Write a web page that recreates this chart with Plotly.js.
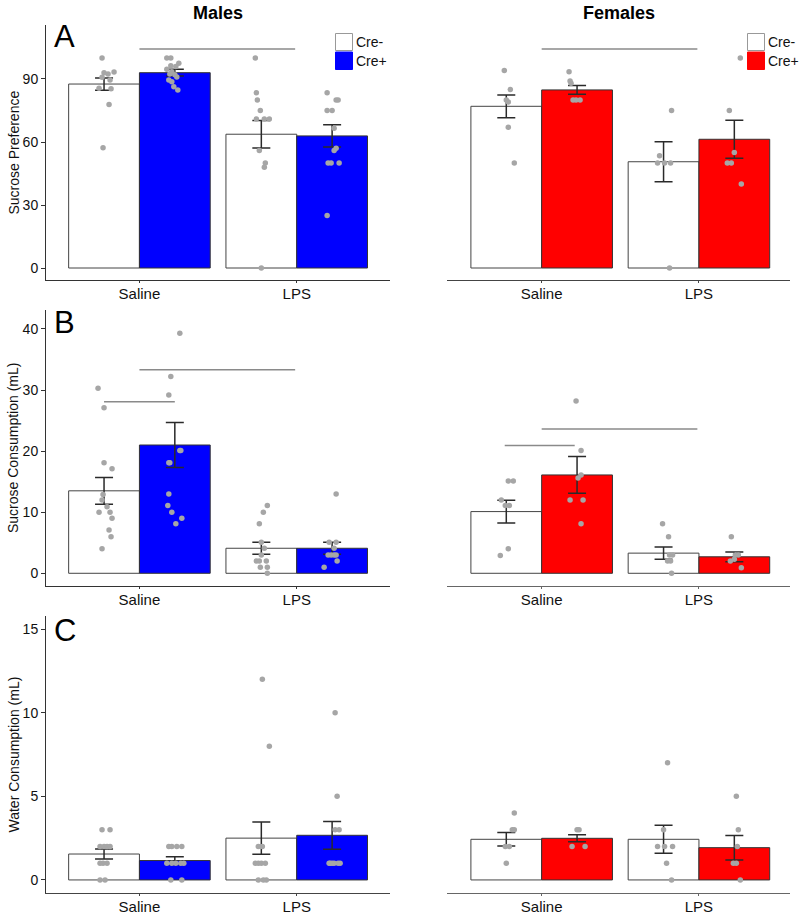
<!DOCTYPE html>
<html><head><meta charset="utf-8">
<script src="https://cdn.plot.ly/plotly-3.0.1.min.js"></script>
<style>html,body{margin:0;padding:0;background:#fff}#chart{width:800px;height:916px}</style>
</head><body><div id="chart"></div>
<script>
// ---------- DATA ----------
const categories = ['Saline', 'LPS'];
const genotypes = ['Cre-', 'Cre+'];
const sexes = ['Males', 'Females'];
const panelLetters = ['A', 'B', 'C'];
const yTitles = ['Sucrose Preference', 'Sucrose Consumption (mL)', 'Water Consumption (mL)'];
const yTicksA = [0, 30, 60, 90];
const yTicksB = [0, 10, 20, 30, 40];
const yTicksC = [0, 5, 10, 15];

// Panel A: sucrose preference (%)
const prefMaleNegMean = [87.6, 63.7];
const prefMaleNegSE = [2.9, 6.5];
const prefMalePosMean = [93.0, 62.9];
const prefMalePosSE = [1.6, 5.3];
const prefFemNegMean = [77.0, 50.6];
const prefFemNegSE = [5.4, 9.5];
const prefFemPosMean = [84.8, 61.3];
const prefFemPosSE = [2.1, 9.0];
const prefMaleNegPts = [[100, 93, 93.3, 92.4, 90.8, 89.5, 85.6, 85.4, 77.8, 57.3],
                        [100, 83.5, 80, 75, 71, 71, 71, 56, 50, 48, 0]];
const prefMalePosPts = [[100, 100, 97.5, 96.3, 96, 94.6, 93.5, 92.4, 92, 91, 89.5, 88.7, 86.3, 84.8],
                        [83.5, 80, 80, 75, 75, 66.5, 57, 56, 50, 50, 50, 25]];
const prefFemNegPts = [[94, 85, 80, 79, 67, 50],
                       [75, 53.5, 50, 50, 50, 0]];
const prefFemPosPts = [[93.5, 89, 88, 80, 80, 80],
                       [100, 75, 55, 50, 50, 40]];

// Panel B: sucrose consumption (mL)
const sucMaleNegMean = [13.5, 4.1];
const sucMaleNegSE = [2.2, 1.0];
const sucMalePosMean = [21.0, 4.1];
const sucMalePosSE = [3.7, 1.0];
const sucFemNegMean = [10.1, 3.3];
const sucFemNegSE = [1.85, 1.0];
const sucFemPosMean = [16.1, 2.7];
const sucFemPosSE = [3.0, 0.8];
const sucMaleNegPts = [[30.3, 27.1, 18.1, 17.1, 12.9, 12, 10.9, 10, 10, 9, 7.1, 6, 4],
                       [11.1, 10, 8.1, 5.1, 4.1, 3, 2, 2, 2, 1, 1, 0]];
const sucMalePosPts = [[39.3, 32.2, 29.2, 20.1, 20.1, 18.1, 18.1, 13, 11.1, 10, 9, 8.1],
                       [13, 5.1, 5.1, 4.1, 3, 3, 3, 3, 2, 1]];
const sucFemNegPts = [[15.1, 15.1, 12, 11.1, 11.1, 4, 2.9],
                      [8.1, 6, 3, 3, 2, 2, 0]];
const sucFemPosPts = [[28.2, 20.1, 16.1, 15.6, 12, 12, 8.1],
                      [6, 3, 3, 2.3, 2, 0.9]];

// Panel C: water consumption (mL)
const watMaleNegMean = [1.55, 2.5];
const watMaleNegSE = [0.3, 0.97];
const watMalePosMean = [1.16, 2.67];
const watMalePosSE = [0.23, 0.83];
const watFemNegMean = [2.43, 2.43];
const watFemNegSE = [0.4, 0.84];
const watFemPosMean = [2.49, 1.93];
const watFemPosSE = [0.21, 0.73];
const watMaleNegPts = [[3, 3, 2, 2, 2, 2, 1, 1, 1, 0, 0],
                       [12, 8, 2, 2, 1, 1, 1, 1, 0, 0, 0]];
const watMalePosPts = [[2, 2, 2, 2, 1, 1, 1, 1, 1, 0, 0],
                       [10, 5, 3, 3, 1, 1, 1, 1, 1, 1]];
const watFemNegPts = [[4, 3, 3, 2, 2, 1],
                      [7, 3, 2, 2, 2, 1, 0]];
const watFemPosPts = [[3, 3, 2, 2],
                      [5, 3, 2, 1, 1, 0]];

// Significance bars: [from, to, level] (from/to in category units)
const sigA_M = [[0, 0.99, 104.3]];
const sigA_F = [[0, 0.99, 104.3]];
const sigB_M = [[-0.225, 0.225, 28.1], [0, 0.99, 33.3]];
const sigB_F = [[-0.235, 0.21, 20.9], [0, 0.99, 23.6]];

// ---------- horizontal jitter of the dots (pixels) ----------
const jPrefMaleNeg = [[-2, 0, 10, 4, -2, 6, -5, 7, 5, -1], [-6, -5, -4, -1, -5, 3, 8, -2, 4, 3, 0]];
const jPrefMalePos = [[-8, -4, 4, -4, 1, -8, -3, -5, 0, 2, -6, -3, -1, 3], [-5, 4, 6, -5, 0, 2, 4, 2, -4, -1, 7, -5]];
const jPrefFemNeg = [[-2, 4, 0, 2, 2, 8], [8, -4, -6, 1, 7, 6]];
const jPrefFemPos = [[-8, -7, -6, -4, -1, 3], [6, -5, 0, -7, -3, 7]];
const jSucMaleNeg = [[-6, 0, 0, 8, -1, -2, 3, -5, 6, 8, 5, 7, -2], [6, 2, -2, 0, 3, 0, -5, -2, 5, -1, 6, 6]];
const jSucMalePos = [[5, -4, -6, 6, 5, -6, -5, -6, -7, -3, 7, 1], [4, -3, 4, 2, -4, -1, 2, 4, 5, -8]];
const jSucFemNeg = [[2, 7, -5, -1, 3, 2, -6], [-1, 5, 6, 9, 4, 7, 8]];
const jSucFemPos = [[-1, 4, 4, 1, -7, 6, 4], [-3, 1, 4, 0, -4, 7]];
const jWatMaleNeg = [[-2, 6, -4, 0, 3, 6, -4, -1, 3, -4, 1], [1, 8, -3, 1, -6, -3, 0, 4, -3, 5, 2]];
const jWatMalePos = [[-6, -3, 2, 7, -8, -3, 1, 6, 9, -4, 7], [3, 5, 3, 7, -3, 0, 6, 8, 2, -2]];
const jWatFemNeg = [[8, 6, 8, -1, 3, 0], [4, 0, -6, 1, 9, 3, 8]];
const jWatFemPos = [[0, 2, -5, 8], [2, 4, 3, -1, 2, 6]];

// ---------- STYLE / GEOMETRY ----------
const W = 800, H = 916;
const FONT = 'Liberation Sans, Arial, sans-serif';
const BLUE = '#0000ff', RED = '#ff0000';
const DOT = '#a6a6a6';
const PXU = 157.3;          // pixels per category unit
const OFF = 0.225;          // dodge offset of each genotype
const xDomM = [46 / W, 390 / W];
const xDomF = [447 / W, 790 / W];
const yDomA = [1 - 280 / H, 1 - 25 / H];
const yDomB = [1 - 586 / H, 1 - 310 / H];
const yDomC = [1 - 893 / H, 1 - 616 / H];
const xRangeM = [-0.594, 1.593];
const xRangeF = [-0.602, 1.579];
const yRangeA = [-5.71, 115.71];
const yRangeB = [-2.08, 43.1];
const yRangeC = [-0.78, 15.78];

const data = [];
const shapes = [];
const annotations = [];

function addPanel(ax, negMean, negSE, posMean, posSE, negPts, negJit, posPts, posJit, posColor, sig) {
  const xa = 'x' + ax, ya = 'y' + ax;
  const eb = (arr) => ({type: 'data', array: arr, visible: true, color: '#2a2a2a', thickness: 1.5, width: 9});
  data.push({type: 'bar', x: [0, 1], y: negMean, name: genotypes[0], xaxis: xa, yaxis: ya,
    marker: {color: '#ffffff', line: {color: '#444', width: 1}}, error_y: eb(negSE),
    showlegend: false, hoverinfo: 'skip'});
  data.push({type: 'bar', x: [0, 1], y: posMean, name: genotypes[1], xaxis: xa, yaxis: ya,
    marker: {color: posColor, line: {color: '#333', width: 1}}, error_y: eb(posSE),
    showlegend: false, hoverinfo: 'skip'});
  const px = [], py = [];
  [[negPts, negJit, -OFF], [posPts, posJit, OFF]].forEach(([pts, jit, off]) => {
    pts.forEach((vals, ci) => {
      vals.forEach((v, i) => { px.push(ci + off + jit[ci][i] / PXU); py.push(v); });
    });
  });
  data.push({type: 'scatter', mode: 'markers', x: px, y: py, xaxis: xa, yaxis: ya,
    marker: {color: DOT, size: 5.5, line: {width: 0}}, showlegend: false, hoverinfo: 'skip'});
  (sig || []).forEach(([a, b, lvl]) => {
    shapes.push({type: 'line', xref: xa, yref: ya, x0: a, x1: b, y0: lvl, y1: lvl,
      line: {color: '#8a8a8a', width: 1.5}});
  });
}

addPanel('', prefMaleNegMean, prefMaleNegSE, prefMalePosMean, prefMalePosSE,
  prefMaleNegPts, jPrefMaleNeg, prefMalePosPts, jPrefMalePos, BLUE, sigA_M);
addPanel('2', prefFemNegMean, prefFemNegSE, prefFemPosMean, prefFemPosSE,
  prefFemNegPts, jPrefFemNeg, prefFemPosPts, jPrefFemPos, RED, sigA_F);
addPanel('3', sucMaleNegMean, sucMaleNegSE, sucMalePosMean, sucMalePosSE,
  sucMaleNegPts, jSucMaleNeg, sucMalePosPts, jSucMalePos, BLUE, sigB_M);
addPanel('4', sucFemNegMean, sucFemNegSE, sucFemPosMean, sucFemPosSE,
  sucFemNegPts, jSucFemNeg, sucFemPosPts, jSucFemPos, RED, sigB_F);
addPanel('5', watMaleNegMean, watMaleNegSE, watMalePosMean, watMalePosSE,
  watMaleNegPts, jWatMaleNeg, watMalePosPts, jWatMalePos, BLUE, null);
addPanel('6', watFemNegMean, watFemNegSE, watFemPosMean, watFemPosSE,
  watFemNegPts, jWatFemNeg, watFemPosPts, jWatFemPos, RED, null);

function xAxis(dom, rng, anchor, lineColor) {
  return {domain: dom, range: rng, anchor: anchor, showline: true, linecolor: lineColor, linewidth: 1,
    ticks: 'outside', ticklen: 2, tickcolor: lineColor, tickvals: [0, 1], ticktext: categories,
    ticklabelstandoff: -2,
    tickfont: {family: FONT, size: 15, color: '#111'}, showgrid: false, zeroline: false, fixedrange: true};
}
function yAxisM(dom, rng, anchor, tv) {
  return {domain: dom, range: rng, anchor: anchor, showline: true, linecolor: '#333', linewidth: 1,
    ticks: 'outside', ticklen: 4, tickcolor: '#333', tickvals: tv,
    tickfont: {family: FONT, size: 14, color: '#111'}, showgrid: false, zeroline: false, fixedrange: true};
}
function yAxisF(dom, rng, anchor) {
  return {domain: dom, range: rng, anchor: anchor, visible: false, showgrid: false, zeroline: false, fixedrange: true};
}

// column titles
annotations.push({text: '<b>' + sexes[0] + '</b>', xref: 'paper', yref: 'paper', x: 218 / W, y: 1 - 13 / H,
  xanchor: 'center', yanchor: 'middle', showarrow: false, font: {family: FONT, size: 18, color: '#000'}});
annotations.push({text: '<b>' + sexes[1] + '</b>', xref: 'paper', yref: 'paper', x: 619 / W, y: 1 - 13 / H,
  xanchor: 'center', yanchor: 'middle', showarrow: false, font: {family: FONT, size: 18, color: '#000'}});

// panel letters
[[panelLetters[0], 37], [panelLetters[1], 322], [panelLetters[2], 630]].forEach(([t, yc]) => {
  annotations.push({text: t, xref: 'paper', yref: 'paper', x: 52 / W, y: 1 - yc / H, xanchor: 'left',
    yanchor: 'middle', showarrow: false, font: {family: FONT, size: 31, color: '#000'}});
});

// y titles
[[yTitles[0], yDomA], [yTitles[1], yDomB], [yTitles[2], yDomC]].forEach(([t, d]) => {
  annotations.push({text: t, xref: 'paper', yref: 'paper', x: 13 / W, y: (d[0] + d[1]) / 2,
    xanchor: 'center', yanchor: 'middle', textangle: -90, showarrow: false,
    font: {family: FONT, size: 14, color: '#111'}});
});

// legends (boxes + labels)
function legendBox(x0, x1, color) {
  shapes.push({type: 'rect', xref: 'paper', yref: 'paper', x0: x0 / W, x1: x1 / W, y0: 1 - 50.5 / H, y1: 1 - 33.5 / H,
    fillcolor: '#ffffff', line: {color: '#999', width: 1}});
  shapes.push({type: 'rect', xref: 'paper', yref: 'paper', x0: x0 / W, x1: x1 / W, y0: 1 - 69.5 / H, y1: 1 - 52 / H,
    fillcolor: color, line: {color: color, width: 1}});
  annotations.push({text: genotypes[0], xref: 'paper', yref: 'paper', x: (x1 + 1) / W, y: 1 - 42 / H,
    xanchor: 'left', yanchor: 'middle', showarrow: false, font: {family: FONT, size: 14, color: '#111'}});
  annotations.push({text: genotypes[1], xref: 'paper', yref: 'paper', x: (x1 + 1) / W, y: 1 - 61 / H,
    xanchor: 'left', yanchor: 'middle', showarrow: false, font: {family: FONT, size: 14, color: '#111'}});
}
legendBox(335.5, 352.5, BLUE);
legendBox(747.5, 764.5, RED);

const layout = {
  width: W, height: H, margin: {l: 0, r: 0, t: 0, b: 0},
  paper_bgcolor: '#fff', plot_bgcolor: 'rgba(0,0,0,0)',
  barmode: 'group', bargap: 0.1, bargroupgap: 0, showlegend: false,
  xaxis: xAxis(xDomM, xRangeM, 'y', '#333'),
  yaxis: yAxisM(yDomA, yRangeA, 'x', yTicksA),
  xaxis2: xAxis(xDomF, xRangeF, 'y2', '#444'),
  yaxis2: yAxisF(yDomA, yRangeA, 'x2'),
  xaxis3: xAxis(xDomM, xRangeM, 'y3', '#333'),
  yaxis3: yAxisM(yDomB, yRangeB, 'x3', yTicksB),
  xaxis4: xAxis(xDomF, xRangeF, 'y4', '#666'),
  yaxis4: yAxisF(yDomB, yRangeB, 'x4'),
  xaxis5: xAxis(xDomM, xRangeM, 'y5', '#444'),
  yaxis5: yAxisM(yDomC, yRangeC, 'x5', yTicksC),
  xaxis6: xAxis(xDomF, xRangeF, 'y6', '#666'),
  yaxis6: yAxisF(yDomC, yRangeC, 'x6'),
  shapes: shapes,
  annotations: annotations
};

Plotly.newPlot('chart', data, layout, {displayModeBar: false, staticPlot: true});
</script>
</body></html>
